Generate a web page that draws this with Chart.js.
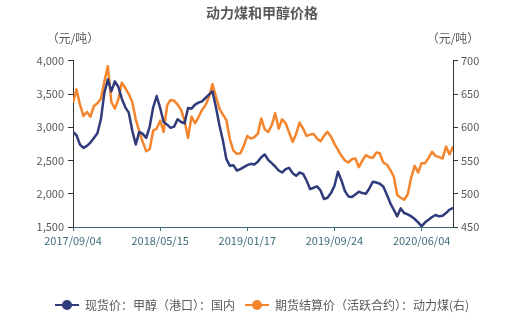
<!DOCTYPE html>
<html>
<head>
<meta charset="utf-8">
<title>动力煤和甲醇价格</title>
<script src="https://cdn.jsdelivr.net/npm/chart.js@4/dist/chart.umd.min.js"></script>
<style>
  html, body { margin: 0; padding: 0; background: #fff; }
  #box { width: 524px; height: 328px; }
</style>
</head>
<body>
<div id="box"><canvas id="myChart"></canvas></div>
<script>
// 横轴刻度（样本序号 -> 日期）
var tickIndex = [0, 25, 50, 75, 100];
var tickLabels = ['2017/09/04', '2018/05/15', '2019/01/17', '2019/09/24', '2020/06/04'];

// 现货价：甲醇（港口）：国内，元/吨（左轴）
var methanol = [
  2930, 2880, 2740, 2690, 2720, 2770, 2840, 2910, 3120, 3520,
  3720, 3540, 3690, 3610, 3430, 3300, 3220, 2950, 2740, 2930,
  2900, 2840, 3010, 3300, 3470, 3290, 3080, 3040, 2990, 3010,
  3120, 3080, 3060, 3290, 3280, 3340, 3370, 3390, 3440, 3490,
  3540, 3300, 3030, 2800, 2520, 2420, 2430, 2350, 2370, 2400,
  2430, 2450, 2440, 2480, 2550, 2590, 2510, 2460, 2410, 2350,
  2320, 2370, 2390, 2310, 2270, 2320, 2300, 2200, 2070, 2090,
  2110, 2050, 1920, 1940, 2010, 2120, 2330, 2200, 2040, 1960,
  1950, 1990, 2030, 2010, 2000, 2080, 2180, 2170, 2150, 2110,
  1990, 1860, 1760, 1660, 1780, 1710, 1690, 1660, 1620, 1570,
  1510, 1570, 1610, 1650, 1680, 1660, 1670, 1710, 1760, 1790
];

// 期货结算价（活跃合约）：动力煤，元/吨（右轴）
var coal = [
  637, 657, 634, 617, 623, 616, 632, 636, 643, 669,
  692, 638, 628, 642, 667, 659, 650, 638, 612, 594,
  578, 564, 567, 595, 598, 610, 593, 633, 641, 640,
  634, 626, 610, 584, 616, 606, 615, 626, 633, 645,
  665, 646, 628, 619, 611, 582, 565, 560, 561, 572,
  587, 583, 585, 590, 613, 597, 593, 603, 621, 598,
  612, 606, 592, 578, 590, 607, 598, 587, 589, 590,
  583, 579, 587, 593, 586, 575, 566, 557, 550, 547,
  552, 553, 540, 550, 558, 555, 554, 562, 561, 547,
  544, 536, 526, 498, 494, 491, 499, 524, 542, 532,
  546, 546, 554, 563, 557, 555, 553, 571, 559, 571
];

var navy = '#2f3b7a';
var orange = '#f5852c';
var grey = '#595959';
var teal = '#3e6b78';
var font = '"Microsoft YaHei", "Noto Sans CJK SC", sans-serif';

// 图例标记：横线加圆点
function legendMark(color) {
  var c = document.createElement('canvas');
  c.width = 24; c.height = 12;
  var g = c.getContext('2d');
  g.strokeStyle = color; g.lineWidth = 2;
  g.beginPath(); g.moveTo(0, 6); g.lineTo(24, 6); g.stroke();
  g.fillStyle = color;
  g.beginPath(); g.arc(12, 6, 5, 0, Math.PI * 2); g.fill();
  return c;
}

function toPoints(arr) {
  return arr.map(function (v, i) { return { x: i, y: v }; });
}

// 两个纵轴上方的单位
var unitTitles = {
  id: 'unitTitles',
  afterDraw: function (chart) {
    var ctx = chart.ctx, a = chart.chartArea;
    ctx.save();
    ctx.fillStyle = grey;
    ctx.font = '12px ' + font;
    ctx.textAlign = 'center';
    ctx.textBaseline = 'middle';
    ctx.fillText('（元/吨）', a.left, 38);
    ctx.fillText('（元/吨）', a.right, 38);
    ctx.restore();
  }
};

var ctx = document.getElementById('myChart').getContext('2d');
var chart = new Chart(ctx, {
  type: 'line',
  data: {
    datasets: [{
      label: '现货价：甲醇（港口）：国内',
      data: toPoints(methanol),
      borderColor: navy,
      backgroundColor: navy,
      borderWidth: 2.5,
      borderJoinStyle: 'round',
      pointRadius: 0,
      pointStyle: legendMark(navy),
      tension: 0,
      yAxisID: 'y'
    }, {
      label: '期货结算价（活跃合约）：动力煤(右)',
      data: toPoints(coal),
      borderColor: orange,
      backgroundColor: orange,
      borderWidth: 2.5,
      borderJoinStyle: 'round',
      pointRadius: 0,
      pointStyle: legendMark(orange),
      tension: 0,
      yAxisID: 'y1'
    }]
  },
  options: {
    responsive: true,
    maintainAspectRatio: false,
    animation: false,
    events: [],
    layout: { padding: { left: 0, right: 0, top: 0, bottom: 7 } },
    plugins: {
      title: {
        display: true,
        text: '动力煤和甲醇价格',
        color: grey,
        font: { family: font, size: 14, weight: 'bold' },
        padding: { top: 4, bottom: 40 }
      },
      legend: {
        position: 'bottom',
        labels: {
          usePointStyle: true,
          pointStyleWidth: 24,
          color: grey,
          padding: 10,
          font: { family: font, size: 12 }
        }
      },
      tooltip: { enabled: false }
    },
    scales: {
      x: {
        type: 'linear',
        min: 0,
        max: methanol.length - 1,
        afterBuildTicks: function (scale) {
          scale.ticks = tickIndex.map(function (v) { return { value: v }; });
        },
        afterFit: function (scale) { scale.height = 62; },
        ticks: {
          autoSkip: false,
          maxRotation: 0,
          color: teal,
          padding: 3,
          font: { family: font, size: 11 },
          callback: function (v) {
            var k = tickIndex.indexOf(v);
            return k < 0 ? '' : tickLabels[k];
          }
        },
        grid: { drawOnChartArea: false, drawTicks: true, tickLength: 4, color: teal },
        border: { color: teal, width: 1 }
      },
      y: {
        position: 'left',
        min: 1500,
        max: 4000,
        afterFit: function (scale) { scale.width = 73; },
        ticks: { stepSize: 500, color: grey, padding: 4, font: { family: font, size: 11 } },
        grid: { drawOnChartArea: false, drawTicks: true, tickLength: 5, color: '#333' },
        border: { color: '#333', width: 1 }
      },
      y1: {
        position: 'right',
        min: 450,
        max: 700,
        afterFit: function (scale) { scale.width = 71; },
        ticks: { stepSize: 50, color: grey, padding: 3, font: { family: font, size: 11 } },
        grid: { drawOnChartArea: false, drawTicks: true, tickLength: 5, color: '#333' },
        border: { color: '#333', width: 1 }
      }
    }
  },
  plugins: [unitTitles]
});
</script>
</body>
</html>
